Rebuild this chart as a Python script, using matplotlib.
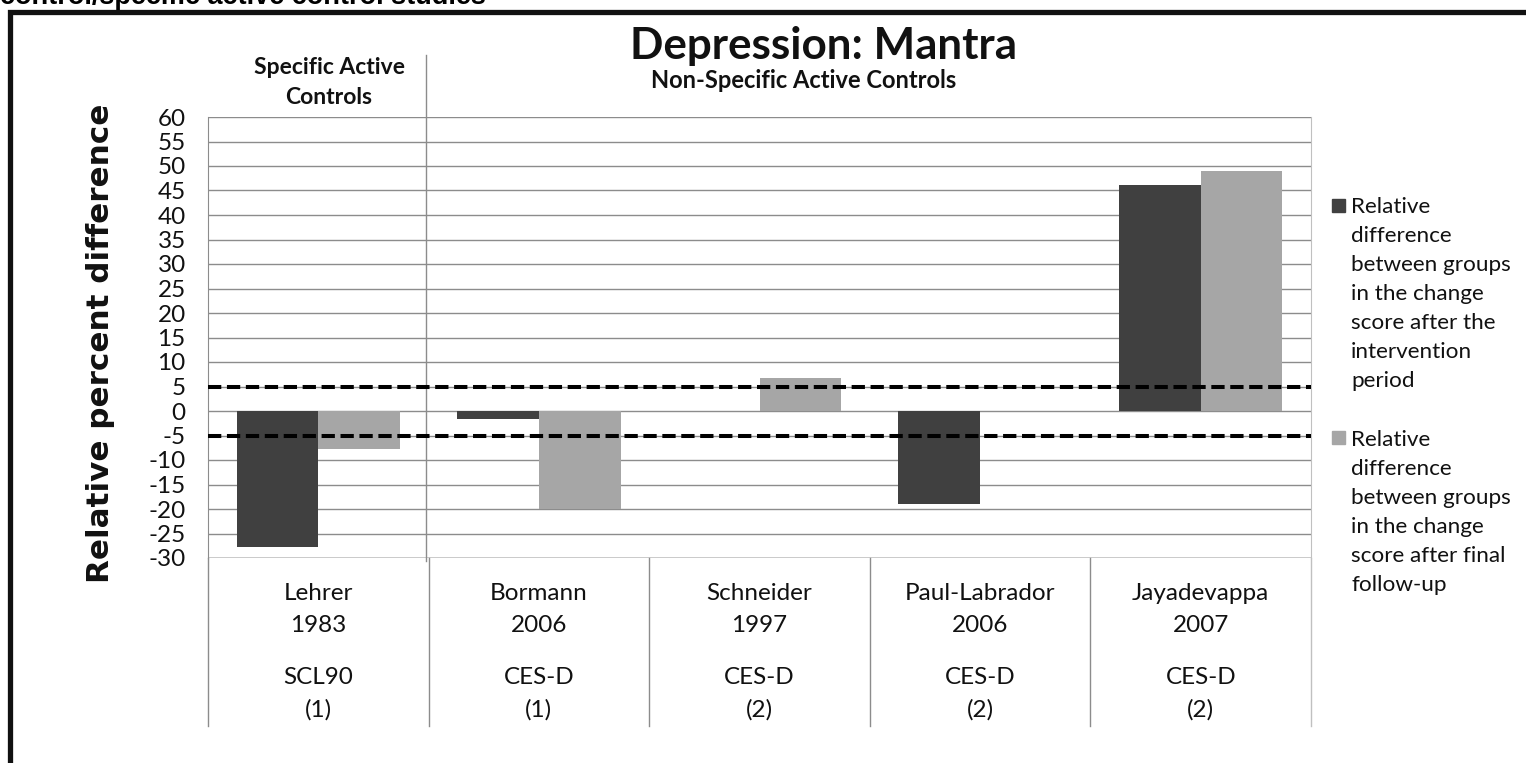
"""Depression: Mantra - relative percent difference bar chart."""

import matplotlib
matplotlib.use("Agg")
import matplotlib.pyplot as plt
from matplotlib.patches import Rectangle
import numpy as np

plt.rcParams["axes.unicode_minus"] = False

# Data
studies = ["Lehrer", "Bormann", "Schneider", "Paul-Labrador", "Jayadevappa"]
years = ["1983", "2006", "1997", "2006", "2007"]
measures = ["SCL90", "CES-D", "CES-D", "CES-D", "CES-D"]
counts = ["(1)", "(1)", "(2)", "(2)", "(2)"]
after_intervention = [-27.7, -1.6, np.nan, -19.0, 46.1]
after_followup = [-7.8, -20.1, 6.7, np.nan, 49.0]
threshold = 5
series_labels = [
    "Relative\ndifference\nbetween groups\nin the change\nscore after the\nintervention\nperiod",
    "Relative\ndifference\nbetween groups\nin the change\nscore after final\nfollow-up",
]

W, H = 1526, 763
DARK = "#404040"
LIGHT = "#a6a6a6"
GRID = "#8c8c8c"
INK = "#111111"
BODY = ["Lato", "DejaVu Sans"]

fig = plt.figure(figsize=(W / 100, H / 100), dpi=100)


def fx(px):
    return px / W


def fy(py):
    return 1 - py / H


# caption cut off at the top edge (as in the source), then the thick frame
fig.text(fx(0), fy(4), "control/specific active control studies",
         family="Liberation Sans", weight="bold", fontsize=19.5,
         ha="left", va="baseline")
fig.add_artist(Rectangle((fx(10), fy(790)), fx(1600), 778 / H,
                         transform=fig.transFigure, fill=False,
                         edgecolor=INK, linewidth=3.8, clip_on=False))

ax = fig.add_axes([fx(208), fy(558), fx(1311 - 208), (558 - 117) / H])

x = np.arange(len(studies))
w = 0.37
ax.bar(x - w / 2, after_intervention, w, color=DARK, zorder=2)
ax.bar(x + w / 2, after_followup, w, color=LIGHT, zorder=2)

for t in (threshold, -threshold):
    ax.axhline(t, color="black", lw=2.9, ls=(0, (3.3, 1.4)), zorder=3)

ax.set_xlim(-0.5, len(studies) - 0.5)
ax.set_ylim(-30, 60)
ax.set_yticks(range(-30, 61, 5))
ax.yaxis.grid(True, color=GRID, lw=1.0, zorder=0)
ax.set_axisbelow(True)
ax.tick_params(axis="y", length=0, pad=16, labelsize=17.5, labelcolor=INK)
for lab in ax.get_yticklabels():
    lab.set_family(BODY)
ax.set_xticks([])
for s in ("top", "bottom"):
    ax.spines[s].set_visible(False)
ax.spines["left"].set_color(GRID)
ax.spines["right"].set_color("#c0c0c0")

ax.set_ylabel("Relative percent difference", family="DejaVu Sans",
              weight="bold", fontsize=22.3, color=INK)
ax.yaxis.set_label_coords((115 - 208) / 1103, (558 - 343) / 441)

# multi-level category axis below the plot
xt = ax.get_xaxis_transform()
ax.axhline(-30, color="#c8c8c8", lw=2, zorder=1)
for b in np.arange(-0.5, len(studies), 1.0):
    col = GRID if b < len(studies) - 1 else "#c0c0c0"
    ax.plot([b, b], [0, -(726 - 558) / 441], color=col, lw=1,
            transform=xt, clip_on=False)
for i in range(len(studies)):
    for txt, py in ((studies[i], 593), (years[i], 625),
                    (measures[i], 677), (counts[i], 710)):
        ax.text(i, -(py - 558) / 441, txt, transform=xt, ha="center",
                va="center", family=BODY, fontsize=17.5, color=INK)

# group separator and headings
ax.plot([0.49, 0.49], [-0.007, (558 - 55) / 441], color=GRID, lw=1,
        transform=xt, clip_on=False)
fig.text(fx(329), fy(68), "Specific Active", family=BODY, weight="bold",
         fontsize=16.5, ha="center", va="center", color=INK)
fig.text(fx(329), fy(98), "Controls", family=BODY, weight="bold",
         fontsize=16.5, ha="center", va="center", color=INK)
fig.text(fx(804), fy(80), "Non-Specific Active Controls", family=BODY,
         weight="bold", fontsize=17, ha="center", va="center", color=INK)
fig.text(fx(824), fy(46), "Depression: Mantra", family=BODY, weight="bold",
         fontsize=31.7, ha="center", va="center", color=INK)

# legend: square aligned with first line of each wrapped label
for label, color, top in zip(series_labels, (DARK, LIGHT), (205, 438)):
    fig.add_artist(Rectangle((fx(1332), fy(top + 6.5)), fx(13), 13 / H,
                             transform=fig.transFigure, color=color))
    fig.text(fx(1351), fy(top - 8), label, family=BODY, fontsize=16.2,
             ha="left", va="top", linespacing=1.56, color=INK)

fig.savefig("out.png", dpi=100)
